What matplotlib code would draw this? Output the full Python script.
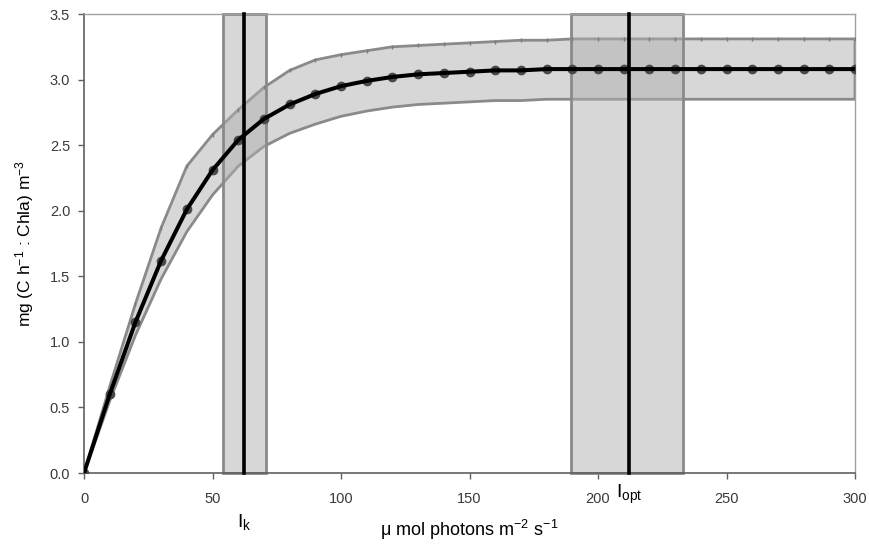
import matplotlib
matplotlib.use("Agg")
import matplotlib.pyplot as plt
from matplotlib.patches import Rectangle

plt.rcParams['font.family'] = ['Liberation Sans', 'DejaVu Sans']
plt.rcParams['mathtext.fontset'] = 'custom'
plt.rcParams['mathtext.rm'] = 'Liberation Sans'
plt.rcParams['mathtext.it'] = 'Liberation Sans'
plt.rcParams['axes.unicode_minus'] = False

# Irradiance (µmol photons m-2 s-1)
irradiance = [0, 10, 20, 30, 40, 50, 60, 70, 80, 90, 100, 110, 120, 130, 140,
              150, 160, 170, 180, 190, 200, 210, 220, 230, 240, 250, 260, 270,
              280, 290, 300]
# Mean photosynthetic rate
production = [0.00, 0.60, 1.15, 1.62, 2.01, 2.31, 2.54, 2.70, 2.81, 2.89, 2.95,
              2.99, 3.02, 3.04, 3.05, 3.06, 3.07, 3.07, 3.08, 3.08, 3.08, 3.08,
              3.08, 3.08, 3.08, 3.08, 3.08, 3.08, 3.08, 3.08, 3.08]
# Upper / lower envelope
upper = [0.00, 0.66, 1.29, 1.87, 2.34, 2.58, 2.77, 2.94, 3.07, 3.15, 3.19,
         3.22, 3.25, 3.26, 3.27, 3.28, 3.29, 3.30, 3.30, 3.31, 3.31, 3.31,
         3.31, 3.31, 3.31, 3.31, 3.31, 3.31, 3.31, 3.31, 3.31]
lower = [0.00, 0.55, 1.05, 1.48, 1.84, 2.12, 2.34, 2.49, 2.59, 2.66, 2.72,
         2.76, 2.79, 2.81, 2.82, 2.83, 2.84, 2.84, 2.85, 2.85, 2.85, 2.85,
         2.85, 2.85, 2.85, 2.85, 2.85, 2.85, 2.85, 2.85, 2.85]

# Saturation parameters with their ranges
ik_value, ik_range = 62.3, (54.2, 70.8)
iopt_value, iopt_range = 212.2, (189.6, 233.2)

x_ticks = [0, 50, 100, 150, 200, 250, 300]
y_ticks = [0.0, 0.5, 1.0, 1.5, 2.0, 2.5, 3.0, 3.5]

fig = plt.figure(figsize=(8.69, 5.45), dpi=100)
ax = fig.add_axes([0.0967, 0.1321, 0.8872, 0.8422])
ax.set_xlim(0, 300)
ax.set_ylim(0, 3.5)

band_face = (0.69, 0.69, 0.69, 0.5)
band_edge = '#8a8a8a'

# Envelope around the curve
poly_x = irradiance + irradiance[::-1]
poly_y = upper + lower[::-1]
ax.fill(poly_x, poly_y, facecolor=band_face, edgecolor=band_edge, lw=2,
        zorder=2)
ax.plot(irradiance, upper, ls='none', marker='|', ms=3, color='#7a7a7a',
        zorder=3)

# Ik and Iopt ranges
for lo, hi in (ik_range, iopt_range):
    ax.add_patch(Rectangle((lo, 0), hi - lo, 3.5, facecolor=band_face,
                           edgecolor=band_edge, lw=2, zorder=2,
                           clip_on=False))

# Data points and fitted curve
ax.plot(irradiance, production, ls='none', marker='o', ms=6,
        color='#4a4a4a', zorder=4)
ax.plot(irradiance, production, color='black', lw=2.9, zorder=5,
        solid_capstyle='round')

# Ik and Iopt lines
for xv in (ik_value, iopt_value):
    ax.plot([xv, xv], [0, 3.5], color='black', lw=2.6, zorder=6,
            clip_on=False)

ax.set_xticks(x_ticks)
ax.set_yticks(y_ticks)
ax.set_yticklabels([f"{v:.1f}" for v in y_ticks])
ax.tick_params(direction='out', length=4, width=1, color='#606060',
               labelsize=10.5, labelcolor='#3a3a3a', pad=6)
ax.tick_params(axis='x', pad=10)

for side in ('left', 'bottom'):
    ax.spines[side].set_color('#606060')
    ax.spines[side].set_linewidth(1.2)
for side in ('top', 'right'):
    ax.spines[side].set_color('#a0a0a0')
    ax.spines[side].set_linewidth(1.0)

ax.set_xlabel(r"μ mol photons m$^{-2}$ s$^{-1}$", fontsize=13, labelpad=8)
ax.set_ylabel(r"mg (C h$^{-1}$ : Chla) m$^{-3}$", fontsize=12.5, labelpad=10)

trans = ax.get_xaxis_transform()
ax.text(ik_value, -0.085, r"I$_\mathrm{k}$", transform=trans, ha='center',
        va='top', fontsize=14)
ax.text(iopt_value, -0.022, r"I$_\mathrm{opt}$", transform=trans, ha='center',
        va='top', fontsize=14)

fig.savefig("out.png", dpi=100)
